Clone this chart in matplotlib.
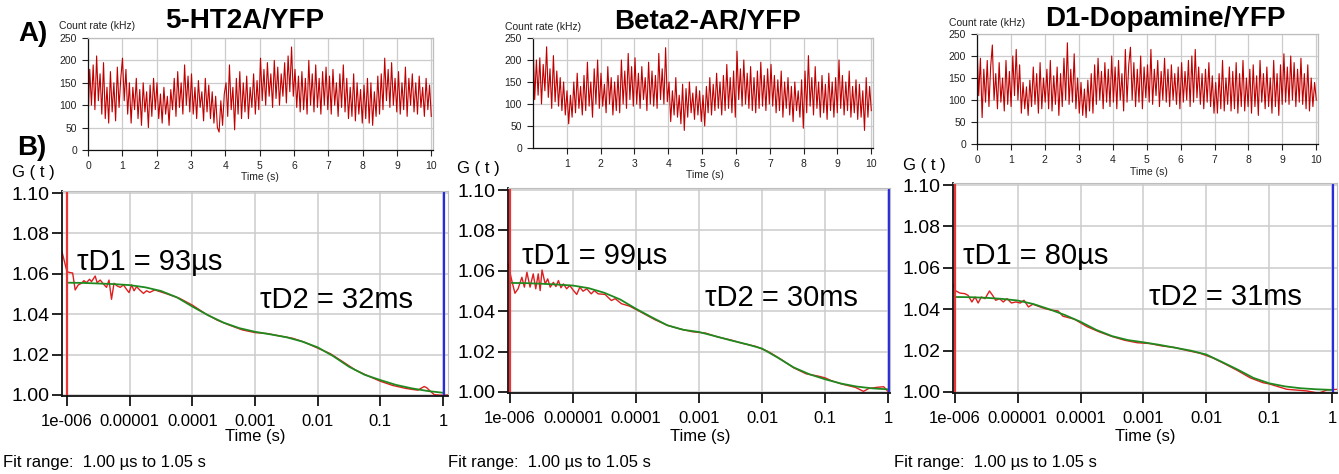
import matplotlib
matplotlib.use('Agg')
import matplotlib.pyplot as plt
import numpy as np

plt.rcParams['font.family'] = ['Liberation Sans', 'DejaVu Sans']

# ---------------- data ----------------
titles = ['5-HT2A/YFP', 'Beta2-AR/YFP', 'D1-Dopamine/YFP']

# count rate traces (kHz), sampled evenly over 0..10 s
count_1 = [65, 180, 100, 190, 90, 210, 110, 170, 80, 195,
           70, 140, 60, 175, 85, 150, 65, 185, 95, 160,
           205, 110, 180, 80, 150, 60, 140, 90, 160, 70,
           135, 55, 150, 85, 130, 50, 145, 75, 160, 90,
           150, 70, 125, 60, 140, 80, 120, 55, 135, 90,
           160, 75, 175, 95, 150, 80, 190, 100, 165, 85,
           170, 80, 140, 70, 155, 95, 130, 65, 160, 85,
           145, 70, 130, 60, 120, 50, 40, 110, 55, 125,
           150, 75, 190, 90, 140, 45, 160, 80, 175, 70,
           150, 85, 165, 70, 140, 95, 170, 80, 155, 90,
           205, 110, 180, 100, 195, 120, 170, 95, 200, 115,
           185, 100, 170, 120, 195, 105, 210, 130, 230, 120,
           180, 95, 165, 85, 175, 90, 160, 80, 200, 100,
           170, 85, 190, 95, 160, 80, 175, 100, 185, 90,
           165, 80, 180, 100, 150, 75, 170, 95, 190, 85,
           160, 70, 140, 75, 170, 65, 150, 80, 135, 60,
           145, 70, 160, 60, 150, 55, 130, 75, 165, 80,
           170, 90, 205, 110, 180, 95, 195, 100, 160, 85,
           175, 80, 150, 90, 185, 75, 160, 100, 170, 85,
           150, 80, 165, 95, 140, 75, 160, 90, 145, 75]
count_2 = [240, 110, 200, 120, 205, 100, 190, 130, 230, 115,
           180, 90, 210, 105, 175, 95, 160, 85, 150, 75,
           130, 55, 120, 70, 150, 80, 170, 90, 140, 75,
           165, 85, 195, 95, 150, 70, 180, 100, 200, 90,
           170, 95, 145, 80, 185, 100, 160, 75, 150, 85,
           165, 80, 200, 100, 175, 90, 215, 110, 185, 95,
           205, 100, 170, 90, 185, 110, 160, 85, 195, 100,
           175, 95, 165, 90, 215, 110, 180, 100, 228, 105,
           150, 60, 130, 75, 160, 70, 120, 55, 145, 40,
           135, 70, 150, 80, 125, 65, 140, 75, 130, 60,
           120, 50, 140, 80, 160, 75, 145, 85, 170, 90,
           150, 75, 165, 85, 190, 90, 160, 80, 175, 70,
           220, 110, 180, 95, 200, 100, 170, 90, 185, 85,
           160, 80, 175, 90, 195, 95, 165, 85, 180, 100,
           190, 95, 165, 80, 155, 85, 175, 70, 150, 90,
           160, 75, 140, 60, 150, 85, 130, 70, 155, 45,
           175, 80, 210, 95, 160, 75, 185, 90, 150, 70,
           165, 80, 145, 65, 170, 85, 150, 70, 160, 80,
           200, 90, 165, 75, 150, 85, 175, 70, 140, 80,
           155, 65, 145, 70, 130, 40, 160, 70, 140, 85]
count_3 = [225, 110, 195, 60, 170, 95, 190, 85, 175, 225,
           100, 160, 80, 185, 95, 150, 75, 190, 90, 165,
           85, 200, 110, 215, 100, 180, 70, 140, 80, 130,
           65, 145, 85, 175, 90, 160, 70, 185, 80, 150,
           95, 170, 80, 190, 75, 155, 90, 175, 65, 160,
           85, 195, 100, 230, 90, 170, 95, 205, 80, 150,
           70, 140, 65, 125, 60, 145, 75, 160, 70, 180,
           90, 195, 100, 165, 80, 185, 95, 170, 85, 200,
           95, 175, 80, 190, 100, 160, 75, 215, 95, 180,
           220, 100, 185, 85, 170, 95, 200, 80, 175, 105,
           180, 95, 215, 90, 170, 110, 190, 85, 165, 100,
           195, 95, 170, 85, 180, 100, 160, 90, 175, 80,
           185, 95, 165, 100, 190, 85, 200, 95, 215, 105,
           175, 90, 160, 80, 170, 95, 185, 85, 155, 70,
           140, 70, 160, 80, 190, 75, 150, 90, 175, 75,
           165, 80, 185, 70, 160, 85, 190, 75, 150, 85,
           170, 70, 180, 85, 155, 65, 190, 95, 160, 80,
           175, 85, 150, 70, 190, 85, 160, 65, 180, 90,
           205, 95, 175, 90, 200, 100, 185, 85, 170, 95,
           195, 90, 160, 80, 180, 75, 150, 85, 140, 100]

count_ticks = [0, 50, 100, 150, 200, 250]
time_ticks_a = [[0, 1, 2, 3, 4, 5, 6, 7, 8, 9, 10],
                [1, 2, 3, 4, 5, 6, 7, 8, 9, 10],
                [0, 1, 2, 3, 4, 5, 6, 7, 8, 9, 10]]

# autocorrelation fits, log10(time / s)
fit_logt = [-6.0, -5.75, -5.5, -5.25, -5.0, -4.75, -4.5, -4.25, -4.0,
            -3.75, -3.5, -3.25, -3.0, -2.75, -2.5, -2.25, -2.0, -1.75,
            -1.5, -1.25, -1.0, -0.75, -0.5, -0.25, 0.0]
fit_1 = [1.0556, 1.0555, 1.0552, 1.0549, 1.0544, 1.0533, 1.0515, 1.0484, 1.0438,
         1.0395, 1.0358, 1.0331, 1.0313, 1.0300, 1.0286, 1.0265, 1.0236, 1.0192,
         1.0140, 1.0100, 1.0074, 1.0050, 1.0033, 1.0020, 1.0011]
fit_2 = [1.0540, 1.0539, 1.0536, 1.0532, 1.0527, 1.0514, 1.0491, 1.0458, 1.0412,
         1.0370, 1.0330, 1.0308, 1.0297, 1.0277, 1.0256, 1.0237, 1.0215, 1.0170,
         1.0122, 1.0088, 1.0063, 1.0042, 1.0027, 1.0018, 1.0013]
fit_3 = [1.0459, 1.0458, 1.0455, 1.0450, 1.0442, 1.0425, 1.0400, 1.0372, 1.0339,
         1.0300, 1.0270, 1.0251, 1.0240, 1.0228, 1.0214, 1.0200, 1.0181, 1.0145,
         1.0108, 1.0068, 1.0042, 1.0027, 1.0018, 1.0013, 1.0010]

# measured correlation curves
data_logt_1 = [-6.08, -6.0, -5.95, -5.91, -5.87, -5.82, -5.77, -5.73, -5.69, -5.64,
               -5.61, -5.55, -5.52, -5.47, -5.42, -5.37, -5.33, -5.29, -5.25, -5.20,
               -5.15, -5.10, -5.05, -5.01, -4.97, -4.93, -4.89, -4.84, -4.78, -4.73,
               -4.68, -4.6, -4.4, -4.2, -4.0, -3.8, -3.6, -3.4, -3.2, -3.0, -2.8,
               -2.6, -2.4, -2.2, -2.0, -1.8, -1.6, -1.4, -1.2, -1.0, -0.8, -0.6,
               -0.5, -0.4, -0.34, -0.3, -0.26, -0.2, -0.14, -0.05, 0.02, 0.08]
data_g_1 = [1.0709, 1.0610, 1.0606, 1.0604, 1.0520, 1.0545, 1.0553, 1.0566, 1.0556, 1.0573,
            1.0561, 1.0589, 1.0556, 1.0569, 1.0550, 1.0533, 1.0569, 1.0474, 1.0553, 1.0540,
            1.0533, 1.0545, 1.0523, 1.0507, 1.0545, 1.0516, 1.0536, 1.0520, 1.0503, 1.0516,
            1.0508, 1.0520, 1.0500, 1.0478, 1.0445, 1.0404, 1.0370, 1.0345, 1.0322, 1.0309, 1.0304,
            1.0292, 1.0281, 1.0260, 1.0232, 1.0205, 1.0165, 1.0124, 1.0095, 1.0068, 1.0047, 1.0033,
            1.0028, 1.0024, 1.0035, 1.0042, 1.0036, 1.0018, 1.0002, 0.9999, 0.9999, 1.0000]

data_logt_2 = [-6.03, -5.97, -5.92, -5.87, -5.81, -5.77, -5.73, -5.68, -5.63, -5.59,
               -5.55, -5.52, -5.49, -5.44, -5.40, -5.36, -5.31, -5.27, -5.23, -5.19,
               -5.15, -5.10, -5.05, -5.0, -4.94, -4.89, -4.84, -4.78, -4.71, -4.66,
               -4.60, -4.49, -4.39, -4.33, -4.23, -4.1, -3.9, -3.7, -3.5, -3.3, -3.1,
               -2.9, -2.7, -2.5, -2.3, -2.1, -1.9, -1.7, -1.5, -1.3, -1.1, -1.0, -0.9,
               -0.73, -0.52, -0.39, -0.31, -0.18, -0.07, 0.0, 0.03]
data_g_2 = [1.0634, 1.0552, 1.0489, 1.0511, 1.0568, 1.0519, 1.0593, 1.0519, 1.0585, 1.0511,
            1.0585, 1.0502, 1.0604, 1.0535, 1.0560, 1.0519, 1.0543, 1.0522, 1.0552, 1.0516,
            1.0535, 1.0511, 1.0527, 1.0506, 1.0483, 1.0519, 1.0499, 1.0511, 1.0486, 1.0502,
            1.0486, 1.0483, 1.0453, 1.0462, 1.0437, 1.0425, 1.0392, 1.0358, 1.0330, 1.0312, 1.0298,
            1.0292, 1.0272, 1.0258, 1.0240, 1.0226, 1.0200, 1.0162, 1.0120, 1.0090, 1.0078, 1.0070, 1.0056,
            1.0039, 1.0023, 1.0003, 1.0017, 1.0023, 1.0026, 1.0002, 1.0000]

data_logt_3 = [-6.05, -6.0, -5.92, -5.84, -5.79, -5.73, -5.68, -5.63, -5.58, -5.52,
               -5.45, -5.40, -5.35, -5.29, -5.23, -5.17, -5.10, -5.03, -4.96, -4.90,
               -4.83, -4.76, -4.67, -4.57, -4.46, -4.36, -4.28, -4.1, -3.9, -3.7,
               -3.5, -3.3, -3.1, -2.9, -2.7, -2.5, -2.3, -2.1, -1.9, -1.7, -1.5,
               -1.3, -1.1, -1.0, -0.72, -0.4, -0.21, -0.08, 0.1]
data_g_3 = [1.0539, 1.0491, 1.0478, 1.0475, 1.0467, 1.0435, 1.0459, 1.0430, 1.0459, 1.0451,
            1.0488, 1.0467, 1.0443, 1.0451, 1.0435, 1.0451, 1.0430, 1.0435, 1.0430, 1.0443,
            1.0411, 1.0424, 1.0414, 1.0403, 1.0395, 1.0392, 1.0366, 1.0352, 1.0316, 1.0290,
            1.0268, 1.0250, 1.0238, 1.0234, 1.0222, 1.0215, 1.0200, 1.0187, 1.0165, 1.0135, 1.0103,
            1.0068, 1.0045, 1.0039, 1.0013, 1.0005, 0.9994, 1.0010, 1.0013]

g_ticks = [1.00, 1.02, 1.04, 1.06, 1.08, 1.10]
g_tick_labels = ['1.00', '1.02', '1.04', '1.06', '1.08', '1.10']
time_ticks_b = [1e-6, 1e-5, 1e-4, 1e-3, 1e-2, 1e-1, 1]
time_tick_labels_b = ['1e-006', '0.00001', '0.0001', '0.001', '0.01', '0.1', '1']

fit_start, fit_end = 1.0e-6, 1.05
tau_d1 = ['93', '99', '80']
tau_d2 = ['32', '30', '31']

counts = [count_1, count_2, count_3]
fits = [fit_1, fit_2, fit_3]
data_logt = [data_logt_1, data_logt_2, data_logt_3]
data_g = [data_g_1, data_g_2, data_g_3]

# ---------------- layout (pixels) ----------------
W, H = 1339, 474
fig = plt.figure(figsize=(W / 100, H / 100), dpi=100)


def box(left, top, right, bottom):
    return [left / W, 1 - bottom / H, (right - left) / W, (bottom - top) / H]


def pt(x, y):
    return x / W, 1 - y / H


a_boxes = [(88, 38, 433, 150), (533, 38, 873, 148), (977, 34, 1318, 144)]
b_boxes = [(62, 191, 448, 396), (508, 188, 890, 393), (953, 183, 1337, 393)]
b_xlims = [(-6.08, 0.08), (-6.03, 0.03), (-6.03, 0.08)]
title_pos = [(245, 21), (707, 22), (1165, 19)]
count_lab_pos = [(59, 26), (505, 27), (949, 23)]
time_a_pos = [(260, 177), (705, 175), (1149, 172)]
gt_pos = [(12, 173), (457, 169), (903, 165)]
time_b_pos = [(255, 437), (700, 437), (1145, 436)]
fit_pos = [(3, 463), (448, 462), (894, 462)]
tau1_pos = [(77, 262), (522, 256), (963, 256)]
tau2_pos = [(260, 300), (705, 298), (1149, 297)]

GRID = '#cccccc'


def frame(ax):
    for side in ('top', 'right'):
        ax.spines[side].set_color('#bdbdbd')
    for side in ('left', 'bottom'):
        ax.spines[side].set_color('#111111')
    ax.set_axisbelow(True)


for i in range(3):
    # --- count rate trace ---
    ax = fig.add_axes(box(*a_boxes[i]))
    t = np.linspace(0, 10, len(counts[i]))
    ax.plot(t, counts[i], color='#c00000', lw=0.8)
    ax.set_xlim(0, 10.05)
    ax.set_ylim(0, 250)
    ax.set_xticks(time_ticks_a[i])
    ax.set_yticks(count_ticks)
    ax.grid(True, color=GRID, lw=0.9)
    frame(ax)
    for s in ax.spines.values():
        s.set_linewidth(0.9)
    ax.tick_params(labelsize=7.5, length=4, width=0.8, pad=4,
                   colors='#222222')
    fig.text(*pt(*title_pos[i]), titles[i], ha='center', va='center',
             fontsize=20, fontweight='bold')
    fig.text(*pt(*count_lab_pos[i]), 'Count rate (kHz)', ha='left',
             va='center', fontsize=7.5, color='#222222')
    fig.text(*pt(*time_a_pos[i]), 'Time (s)', ha='center', va='center',
             fontsize=7.5, color='#222222')

    # --- correlation curve ---
    ax = fig.add_axes(box(*b_boxes[i]))
    ax.set_xscale('log')
    ax.plot(10 ** np.array(data_logt[i]), data_g[i], color='#dd1f1f', lw=1.0)
    ax.plot(10 ** np.array(fit_logt), fits[i], color='#1f8a1f', lw=1.3)
    ax.axvline(fit_start, color='#e83535', lw=1.6)
    ax.axvline(fit_end, color='#2a2ae0', lw=1.6)
    lo, hi = b_xlims[i]
    ax.set_xlim(10 ** lo, 10 ** hi)
    ax.set_ylim(0.9995, 1.101)
    ax.set_xticks(time_ticks_b)
    ax.set_xticklabels(time_tick_labels_b)
    ax.xaxis.set_minor_locator(matplotlib.ticker.NullLocator())
    ax.set_yticks(g_ticks)
    ax.set_yticklabels(g_tick_labels)
    ax.grid(True, color=GRID, lw=1.1)
    frame(ax)
    for s in ('left', 'bottom'):
        ax.spines[s].set_linewidth(1.3)
    ax.tick_params(axis='y', labelsize=14, length=7, width=1.2, pad=2)
    ax.tick_params(axis='x', labelsize=12, length=7, width=1.2, pad=6)

    fig.text(*pt(*gt_pos[i]), 'G ( t )', ha='left', va='center', fontsize=12)
    fig.text(*pt(*time_b_pos[i]), 'Time (s)', ha='center', va='center',
             fontsize=12)
    fig.text(*pt(*fit_pos[i]), 'Fit range:  1.00 µs to 1.05 s', ha='left',
             va='center', fontsize=12)
    fig.text(*pt(*tau1_pos[i]), 'τD1 = ' + tau_d1[i] + 'µs', ha='left',
             va='center', fontsize=21)
    fig.text(*pt(*tau2_pos[i]), 'τD2 = ' + tau_d2[i] + 'ms', ha='left',
             va='center', fontsize=21)

fig.text(*pt(18, 34), 'A)', ha='left', va='center', fontsize=20,
         fontweight='bold')
fig.text(*pt(17, 148), 'B)', ha='left', va='center', fontsize=20,
         fontweight='bold')

fig.savefig('out.png', dpi=100)
